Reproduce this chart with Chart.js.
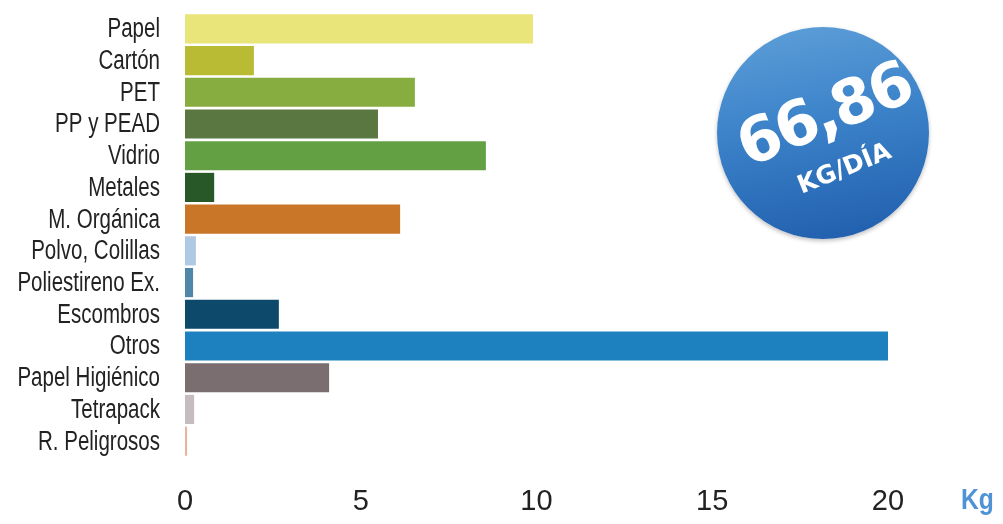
<!DOCTYPE html>
<html>
<head>
<meta charset="utf-8">
<script src="https://cdn.jsdelivr.net/npm/chart.js@4"></script>
<style>
  html, body { margin: 0; padding: 0; background: #fff; }
  #wrap { position: relative; width: 1003px; height: 524px; overflow: hidden; }
  #badge {
    position: absolute; left: 717px; top: 27px; width: 212px; height: 212px;
    border-radius: 50%;
    background: linear-gradient(170deg, #5fa0d9 0%, #3b82c9 45%, #1f5cab 100%);
    box-shadow: 0 2px 4px rgba(0,0,0,0.25);
  }
  #badge .num {
    position: absolute; left: 16px; top: 50px; width: 180px; text-align: center;
    color: #fff; font: 900 62px "DejaVu Sans", sans-serif; letter-spacing: -3px;
    transform: rotate(-22deg);
  }
  #badge .unit {
    position: absolute; left: 52px; top: 126px; width: 150px; text-align: center;
    color: #fff; font: bold 25px "DejaVu Sans", sans-serif;
    transform: rotate(-22deg);
  }
  #kg {
    position: absolute; left: 961px; top: 483px;
    color: #4f93d6; font: bold 29px "Liberation Sans", sans-serif;
    transform: scaleX(0.85); transform-origin: left top;
  }
</style>
</head>
<body>
<div id="wrap">
  <canvas id="chartWaste" width="1003" height="524"></canvas>
  <div id="badge"><div class="num">66,86</div><div class="unit">KG/DÍA</div></div>
  <div id="kg">Kg</div>
</div>
<script>
// -- data
const categories = [
  "Papel", "Cartón", "PET", "PP y PEAD", "Vidrio", "Metales", "M. Orgánica",
  "Polvo, Colillas", "Poliestireno Ex.", "Escombros", "Otros",
  "Papel Higiénico", "Tetrapack", "R. Peligrosos",
];
const kgPerDay = [9.9, 1.96, 6.54, 5.49, 8.56, 0.83, 6.12, 0.31, 0.23, 2.67, 20.0, 4.1, 0.26, 0.06];
const barColors = [
  "#e9e57a", "#b9bb34", "#87ac3f", "#5b7741", "#63a044", "#285828", "#c97629",
  "#afc8e3", "#4e87a8", "#0c496b", "#1d80bf", "#7a6e71", "#c6bcc0", "#e8b49b",
];
const xTicks = [0, 5, 10, 15, 20];

// condensed category labels: no narrow font installed, so squeeze Liberation Sans
const narrowLabels = {
  id: "narrowLabels",
  afterDraw(chart) {
    const y = chart.scales.y;
    const c = chart.ctx;
    c.save();
    c.fillStyle = "#222";
    c.font = '27px "Liberation Sans", sans-serif';
    c.textAlign = "right";
    c.textBaseline = "middle";
    y.ticks.forEach((t, i) => {
      c.save();
      c.translate(y.right - 25, y.getPixelForTick(i) + 1);
      c.scale(0.76, 1);
      c.fillText(chart.data.labels[t.value], 0, 0);
      c.restore();
    });
    c.restore();
  },
};

window.addEventListener("load", () => {
  const ctx = document.getElementById("chartWaste").getContext("2d");
  new Chart(ctx, {
    type: "bar",
    data: {
      labels: categories,
      datasets: [
        {
          label: "Kg",
          data: kgPerDay,
          backgroundColor: barColors,
          borderWidth: 0,
          barPercentage: 0.92,
          categoryPercentage: 1,
        },
      ],
    },
    options: {
      indexAxis: "y",
      responsive: false,
      animation: false,
      layout: { padding: { top: 13, right: 115, bottom: 0, left: 0 } },
      plugins: { legend: { display: false }, tooltip: { enabled: false } },
      scales: {
        x: {
          min: 0,
          max: 20,
          afterBuildTicks: (s) => { s.ticks = xTicks.map((v) => ({ value: v })); },
          afterFit: (s) => { s.height = 67; },
          grid: { display: false, drawTicks: false },
          border: { display: false },
          ticks: { padding: 28, color: "#222", font: { family: '"Liberation Sans", sans-serif', size: 29 } },
        },
        y: {
          afterFit: (s) => { s.width = 185; },
          grid: { display: false, drawTicks: false },
          border: { display: false },
          ticks: { display: false, autoSkip: false },
        },
      },
    },
    plugins: [narrowLabels],
  });
});
</script>
</body>
</html>
